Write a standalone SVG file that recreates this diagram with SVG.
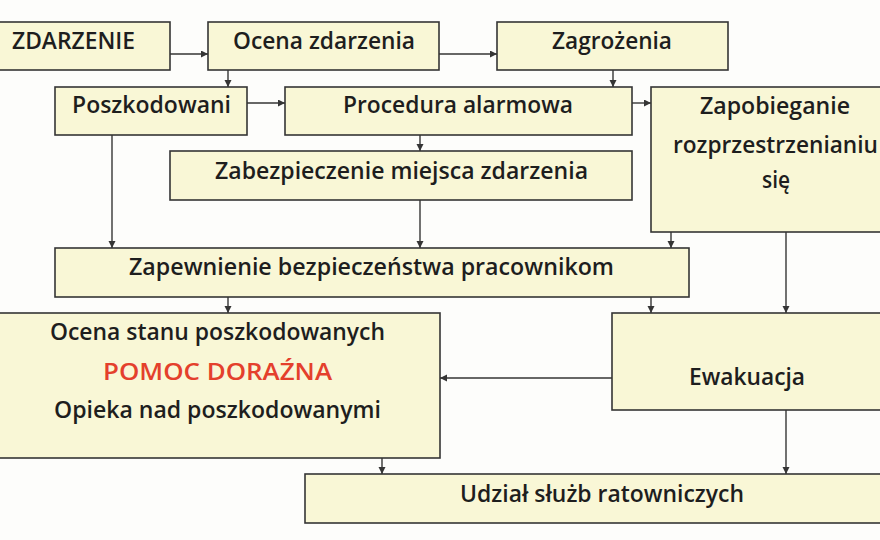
<svg xmlns="http://www.w3.org/2000/svg" width="880" height="540" viewBox="0 0 880 540">
<style>
.box{fill:#f9f7d6;stroke:#353535;stroke-width:1.6}
.t{font-family:"Open Sans","Noto Sans","Liberation Sans",sans-serif;font-weight:600;font-size:23px;fill:#1e1e1e}
.red{fill:#e4402c}
.c{stroke:#353535;stroke-width:1.4;fill:none;marker-end:url(#ah)}
</style>
<defs>
<marker id="ah" markerUnits="userSpaceOnUse" markerWidth="8" markerHeight="8" refX="7" refY="3.5" orient="auto">
<path d="M0,0 L7,3.5 L0,7 z" fill="#353535"/>
</marker>
</defs>
<rect x="0" y="0" width="880" height="540" fill="#fdfdfb"/>
<g id="connectors">
<line class="c" x1="170" y1="54" x2="208" y2="54"/>
<line class="c" x1="439" y1="54" x2="497" y2="54"/>
<line class="c" x1="228" y1="70" x2="228" y2="87"/>
<line class="c" x1="247" y1="103" x2="285" y2="103"/>
<line class="c" x1="613" y1="70" x2="613" y2="87"/>
<line class="c" x1="632" y1="103" x2="651" y2="103"/>
<line class="c" x1="420" y1="135" x2="420" y2="151"/>
<line class="c" x1="112" y1="135" x2="112" y2="248"/>
<line class="c" x1="420" y1="200" x2="420" y2="248"/>
<line class="c" x1="671" y1="232" x2="671" y2="248"/>
<line class="c" x1="228" y1="297" x2="228" y2="313"/>
<line class="c" x1="651" y1="297" x2="651" y2="313"/>
<line class="c" x1="786" y1="232" x2="786" y2="313"/>
<line class="c" x1="612" y1="378" x2="440" y2="378"/>
<line class="c" x1="382" y1="458" x2="382" y2="474"/>
<line class="c" x1="786" y1="410" x2="786" y2="474"/>
</g>
<g id="zdarzenie"><rect class="box" x="-5" y="22" width="175" height="48"/><text class="t" x="12" y="49" textLength="123" lengthAdjust="spacingAndGlyphs">ZDARZENIE</text></g>
<g id="ocena"><rect class="box" x="208" y="22" width="231" height="48"/><text class="t" x="233" y="49" textLength="182" lengthAdjust="spacingAndGlyphs">Ocena zdarzenia</text></g>
<g id="zagrozenia"><rect class="box" x="497" y="22" width="231" height="48"/><text class="t" x="552" y="49" textLength="120" lengthAdjust="spacingAndGlyphs">Zagrożenia</text></g>
<g id="poszkodowani"><rect class="box" x="55" y="87" width="192" height="48"/><text class="t" x="72" y="113" textLength="159" lengthAdjust="spacingAndGlyphs">Poszkodowani</text></g>
<g id="procedura"><rect class="box" x="285" y="87" width="347" height="48"/><text class="t" x="343" y="113" textLength="230" lengthAdjust="spacingAndGlyphs">Procedura alarmowa</text></g>
<g id="zapobieganie"><rect class="box" x="651" y="87" width="250" height="145"/>
<text class="t" x="700" y="114" textLength="150" lengthAdjust="spacingAndGlyphs">Zapobieganie</text>
<text class="t" x="673" y="153" textLength="205" lengthAdjust="spacingAndGlyphs">rozprzestrzenianiu</text>
<text class="t" x="762" y="188" textLength="28" lengthAdjust="spacingAndGlyphs">się</text></g>
<g id="zabezpieczenie"><rect class="box" x="170" y="151" width="462" height="49"/><text class="t" x="215" y="179" textLength="373" lengthAdjust="spacingAndGlyphs">Zabezpieczenie miejsca zdarzenia</text></g>
<g id="zapewnienie"><rect class="box" x="55" y="248" width="634" height="49"/><text class="t" x="129" y="275" textLength="485" lengthAdjust="spacingAndGlyphs">Zapewnienie bezpieczeństwa pracownikom</text></g>
<g id="ocenastanu"><rect class="box" x="-5" y="313" width="445" height="145"/>
<text class="t" x="50" y="340" textLength="335" lengthAdjust="spacingAndGlyphs">Ocena stanu poszkodowanych</text>
<text class="t red" x="103" y="380" textLength="229" lengthAdjust="spacingAndGlyphs">POMOC DORAŹNA</text>
<text class="t" x="54" y="418" textLength="327" lengthAdjust="spacingAndGlyphs">Opieka nad poszkodowanymi</text></g>
<g id="ewakuacja"><rect class="box" x="612" y="313" width="280" height="97"/><text class="t" x="689" y="385" textLength="116" lengthAdjust="spacingAndGlyphs">Ewakuacja</text></g>
<g id="udzial"><rect class="box" x="305" y="474" width="600" height="49"/><text class="t" x="460" y="502" textLength="284" lengthAdjust="spacingAndGlyphs">Udział służb ratowniczych</text></g>
</svg>
